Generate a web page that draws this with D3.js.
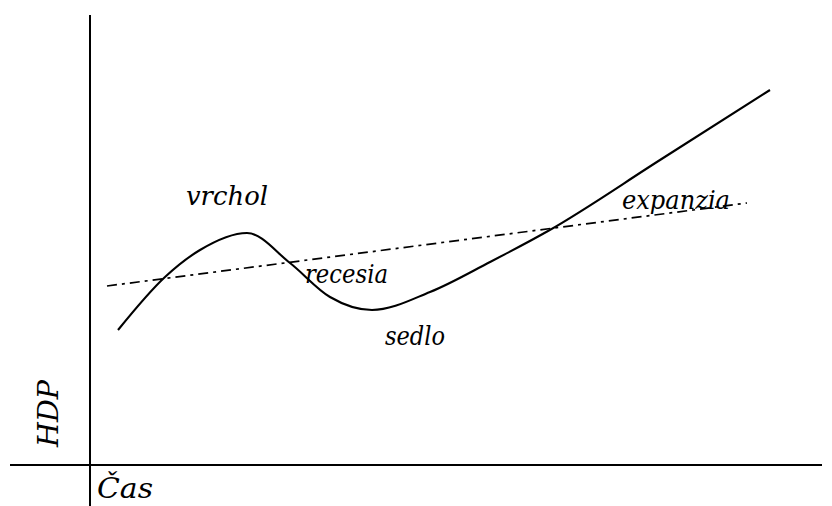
<!DOCTYPE html>
<html>
<head>
<meta charset="utf-8">
<script src="https://cdn.jsdelivr.net/npm/d3@7"></script>
<style>
  html, body { margin: 0; padding: 0; background: #fff; }
  svg { display: block; }
  .lbl { font-family: "DejaVu Serif", serif; font-style: italic; fill: #000; }
</style>
</head>
<body>
<svg id="chart" width="832" height="506"></svg>
<script>
// Business cycle: GDP (HDP) over time (Čas)
const cycleTime = [2.8, 7.5, 11.0, 15.7, 20.0, 24.0, 28.2, 34.0, 40.0, 45.8, 57.0, 68.0];
const cycleGdp  = [13.5, 18.8, 21.5, 23.2, 20.2, 16.8, 15.5, 17.3, 20.3, 23.4, 30.5, 37.5];

// Long-run trend line (start and end)
const trendTime = [1.7, 65.7];
const trendGdp  = [17.9, 26.2];

// Axis extents
const timeAxisExtent = [-8, 73.2];
const gdpAxisExtent  = [-4.1, 45];

// Phase labels
const phaseNames = ["vrchol", "recesia", "sedlo", "expanzia"];
const phaseTime  = [9.6, 21.5, 29.5, 53.2];
const phaseGdp   = [26.0, 18.2, 12.0, 25.6];
const phaseWidth = [82, 83, 60, 108];

const axisTitles = { y: "HDP", x: "Čas" };

const svg = d3.select("#chart");
const x = d3.scaleLinear().domain([0, 70]).range([90, 790]);
const y = d3.scaleLinear().domain([0, 45]).range([465, 15]);

// axes
svg.append("line")
  .attr("x1", x(0)).attr("x2", x(0))
  .attr("y1", y(gdpAxisExtent[1])).attr("y2", y(gdpAxisExtent[0]))
  .attr("stroke", "#000").attr("stroke-width", 2);
svg.append("line")
  .attr("x1", x(timeAxisExtent[0])).attr("x2", x(timeAxisExtent[1]))
  .attr("y1", y(0)).attr("y2", y(0))
  .attr("stroke", "#000").attr("stroke-width", 2);

// trend
svg.append("line")
  .attr("x1", x(trendTime[0])).attr("y1", y(trendGdp[0]))
  .attr("x2", x(trendTime[1])).attr("y2", y(trendGdp[1]))
  .attr("stroke", "#000").attr("stroke-width", 1.7)
  .attr("stroke-dasharray", "10,5,3,5");

// cycle curve
const pts = cycleTime.map((t, i) => [t, cycleGdp[i]]);
const line = d3.line().x(d => x(d[0])).y(d => y(d[1])).curve(d3.curveMonotoneX);
svg.append("path")
  .attr("d", line(pts))
  .attr("fill", "none").attr("stroke", "#000").attr("stroke-width", 2.1);

// phase labels
phaseNames.forEach((name, i) => {
  svg.append("text").attr("class", "lbl")
    .attr("x", x(phaseTime[i])).attr("y", y(phaseGdp[i]))
    .attr("font-size", 26)
    .attr("textLength", phaseWidth[i]).attr("lengthAdjust", "spacingAndGlyphs")
    .text(name);
});

// axis titles
svg.append("text").attr("class", "lbl")
  .attr("transform", `translate(${x(-3.2)},${y(1.8)}) rotate(-90)`)
  .attr("font-size", 27)
  .attr("textLength", 67).attr("lengthAdjust", "spacingAndGlyphs")
  .text(axisTitles.y);
svg.append("text").attr("class", "lbl")
  .attr("x", x(0.7)).attr("y", y(-3.3))
  .attr("font-size", 27)
  .attr("textLength", 56).attr("lengthAdjust", "spacingAndGlyphs")
  .text(axisTitles.x);
</script>
</body>
</html>
